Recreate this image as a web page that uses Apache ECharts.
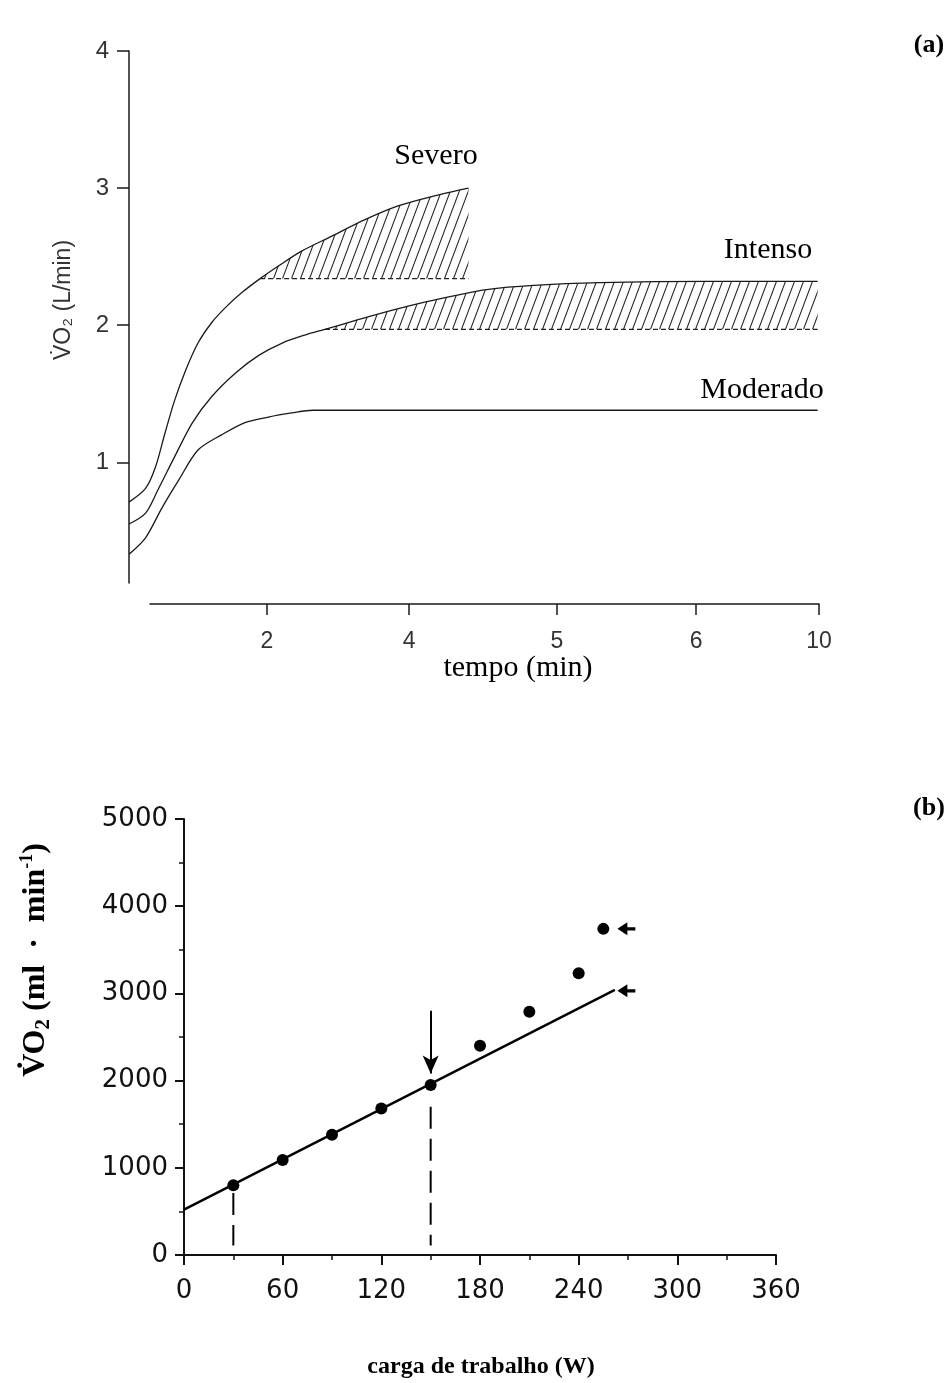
<!DOCTYPE html>
<html><head><meta charset="utf-8">
<script src="https://cdn.jsdelivr.net/npm/echarts@6/dist/echarts.min.js"></script>
<style>html,body{margin:0;padding:0;background:#fff}#c{width:949px;height:1383px}</style>
</head><body><div id="c"></div>
<script>
// ---------- Panel (a) ----------
// x values are positions along the (non-linear) time axis; labels below
const tempoTickPos = [1.0, 2.03, 3.10, 4.11, 5.0];
const tempoTickLabels = ['2', '4', '5', '6', '10'];
const vo2TicksA = [1, 2, 3, 4];

const severoX = [0, 0.12, 0.19, 0.26, 0.33, 0.41, 0.50, 0.60, 0.70, 0.82, 0.95, 1.08, 1.25, 1.47, 1.71, 1.95, 2.20, 2.46];
const severoY = [0.71, 0.81, 0.96, 1.21, 1.45, 1.67, 1.87, 2.02, 2.13, 2.24, 2.34, 2.43, 2.54, 2.65, 2.77, 2.87, 2.94, 3.00];
const severoBase = 2.34;

const intensoX = [0, 0.12, 0.21, 0.33, 0.46, 0.60, 0.77, 0.94, 1.11, 1.28, 1.42, 1.66, 1.91, 2.15, 2.38, 2.59, 2.93, 3.41, 4.19, 4.99];
const intensoY = [0.55, 0.63, 0.80, 1.04, 1.29, 1.48, 1.65, 1.78, 1.87, 1.93, 1.97, 2.04, 2.11, 2.17, 2.22, 2.26, 2.29, 2.31, 2.32, 2.32];
const intensoBase = 1.97;

const moderadoX = [0, 0.12, 0.24, 0.36, 0.50, 0.67, 0.84, 1.01, 1.18, 1.33, 4.99];
const moderadoY = [0.33, 0.45, 0.67, 0.87, 1.09, 1.20, 1.29, 1.33, 1.36, 1.38, 1.38];

// ---------- Panel (b) ----------
const cargaW = [30, 60, 90, 120, 150, 180, 210, 240, 255];
const vo2ml = [800, 1090, 1380, 1680, 1950, 2400, 2790, 3230, 3740];
const regrW = [0, 262];
const regrV = [520, 3040];
const arrowW = [269, 269];
const arrowV = [3740, 3030];
const dropW = [30, 150];
const dropTop = [710, 1700];
const dropBottom = [110, 110];
const downArrowW = 150;
const downArrowV = [2800, 2080];

function pairs(xs, ys) { return xs.map((x, i) => [x, ys[i]]); }
function fromX(xs, ys, start) { return pairs(xs, ys).filter(p => p[0] >= start - 1e-9); }

function hatchCanvas() {
  const w = 9, h = 24;
  const c = document.createElement('canvas');
  c.width = w; c.height = h;
  const g = c.getContext('2d');
  g.strokeStyle = '#222'; g.lineWidth = 1.1;
  for (const o of [-w, 0, w]) { g.beginPath(); g.moveTo(o, h); g.lineTo(o + w, 0); g.stroke(); }
  return c;
}
const hatch = { image: hatchCanvas(), repeat: 'repeat' };

const serifFont = '"Liberation Serif", "Times New Roman", serif';
const sansFont = '"Liberation Sans", Arial, sans-serif';
const curveStyle = { color: '#1a1a1a', width: 1.3 };

const chart = echarts.init(document.getElementById('c'), null, { renderer: 'canvas' });

const severoStart = severoX[severoY.indexOf(severoBase)];
const intensoStart = intensoX[intensoY.indexOf(intensoBase)];

chart.setOption({
  animation: false,
  backgroundColor: '#fff',
  grid: [
    { left: 129, width: 690, top: 51, height: 532 },
    { left: 150, width: 669, top: 51, height: 532 },
    { left: 184, width: 592, top: 819, height: 436 }
  ],
  xAxis: [
    { gridIndex: 0, type: 'value', min: 0, max: 5, show: false },
    { gridIndex: 1, type: 'value', min: 0.152, max: 5, offset: 21,
      axisLine: { show: true, lineStyle: { color: '#1a1a1a', width: 1.5 } },
      axisTick: { show: true, length: 11, customValues: tempoTickPos, lineStyle: { color: '#1a1a1a', width: 1.5 } },
      axisLabel: { customValues: tempoTickPos, margin: 26, fontSize: 23, fontFamily: sansFont, color: '#333',
        formatter: v => { const i = tempoTickPos.findIndex(p => Math.abs(p - v) < 1e-6); return i >= 0 ? tempoTickLabels[i] : ''; } },
      splitLine: { show: false } },
    { gridIndex: 2, type: 'value', min: 0, max: 360, interval: 60,
      axisLine: { show: true, onZero: false, lineStyle: { color: '#111', width: 2 } },
      axisTick: { show: true, length: 10, lineStyle: { color: '#111', width: 2 } },
      minorTick: { show: true, splitNumber: 2, length: 5, lineStyle: { color: '#111', width: 1.5 } },
      axisLabel: { margin: 23, fontSize: 26, fontFamily: '"DejaVu Sans", sans-serif', color: '#111', formatter: v => String(v) },
      splitLine: { show: false } }
  ],
  yAxis: [
    { gridIndex: 0, type: 'value', min: 0.12, max: 4,
      axisLine: { show: true, lineStyle: { color: '#1a1a1a', width: 1.5 } },
      axisTick: { show: true, length: 12, customValues: vo2TicksA, lineStyle: { color: '#1a1a1a', width: 1.5 } },
      axisLabel: { customValues: vo2TicksA, margin: 20, fontSize: 24, fontFamily: sansFont, color: '#333', formatter: v => String(v) },
      splitLine: { show: false } },
    { gridIndex: 1, type: 'value', min: 0.12, max: 4, show: false },
    { gridIndex: 2, type: 'value', min: 0, max: 5000, interval: 1000,
      axisLine: { show: true, onZero: false, lineStyle: { color: '#111', width: 2 } },
      axisTick: { show: true, length: 9, lineStyle: { color: '#111', width: 2 } },
      minorTick: { show: true, splitNumber: 2, length: 5, lineStyle: { color: '#111', width: 1.5 } },
      axisLabel: { margin: 16, fontSize: 26, fontFamily: '"DejaVu Sans", sans-serif', color: '#111', formatter: v => String(v) },
      splitLine: { show: false } }
  ],
  series: [
    // hatched areas
    { type: 'line', xAxisIndex: 0, yAxisIndex: 0, data: fromX(severoX, severoY, severoStart), smooth: 0.3,
      symbol: 'none', lineStyle: { width: 0 }, areaStyle: { origin: severoBase, color: hatch, opacity: 1 }, z: 1 },
    { type: 'line', xAxisIndex: 0, yAxisIndex: 0, data: fromX(intensoX, intensoY, intensoStart), smooth: 0.3,
      symbol: 'none', lineStyle: { width: 0 }, areaStyle: { origin: intensoBase, color: hatch, opacity: 1 }, z: 1 },
    // hatch baselines
    { type: 'line', xAxisIndex: 0, yAxisIndex: 0, data: [[severoStart, severoBase], [severoX[severoX.length - 1], severoBase]],
      symbol: 'none', lineStyle: { color: '#222', width: 1.2, type: [5, 3] } },
    { type: 'line', xAxisIndex: 0, yAxisIndex: 0, data: [[intensoStart, intensoBase], [intensoX[intensoX.length - 1], intensoBase]],
      symbol: 'none', lineStyle: { color: '#222', width: 1.2, type: [5, 3] } },
    // curves
    { name: 'Severo', type: 'line', xAxisIndex: 0, yAxisIndex: 0, data: pairs(severoX, severoY), smooth: 0.3, symbol: 'none', lineStyle: curveStyle, z: 3 },
    { name: 'Intenso', type: 'line', xAxisIndex: 0, yAxisIndex: 0, data: pairs(intensoX, intensoY), smooth: 0.3, symbol: 'none', lineStyle: curveStyle, z: 3 },
    { name: 'Moderado', type: 'line', xAxisIndex: 0, yAxisIndex: 0, data: pairs(moderadoX, moderadoY), smooth: 0.3, symbol: 'none', lineStyle: curveStyle, z: 3 },

    // ---- panel b ----
    { type: 'line', xAxisIndex: 2, yAxisIndex: 2, data: pairs(regrW, regrV), symbol: 'none',
      lineStyle: { color: '#000', width: 2.4 }, z: 3,
      markLine: { silent: true, symbol: ['none', 'arrow'], symbolSize: [12, 18], label: { show: false },
        lineStyle: { color: '#000', width: 2, type: 'solid' },
        data: [[{ coord: [downArrowW, downArrowV[0]] }, { coord: [downArrowW, downArrowV[1]] }]] } },
    { type: 'line', xAxisIndex: 2, yAxisIndex: 2, data: [[dropW[0], dropTop[0]], [dropW[0], dropBottom[0]]], symbol: 'none',
      lineStyle: { color: '#000', width: 2, type: [22, 10] } },
    { type: 'line', xAxisIndex: 2, yAxisIndex: 2, data: [[dropW[1], dropTop[1]], [dropW[1], dropBottom[1]]], symbol: 'none',
      lineStyle: { color: '#000', width: 2, type: [22, 10] } },
    { type: 'scatter', xAxisIndex: 2, yAxisIndex: 2, data: pairs(cargaW, vo2ml), symbol: 'circle', symbolSize: 12,
      itemStyle: { color: '#000', opacity: 1 }, z: 5 },
    { type: 'scatter', xAxisIndex: 2, yAxisIndex: 2, data: pairs(arrowW, arrowV),
      symbol: 'path://M0,6 L10,0 L10,4.5 L18,4.5 L18,7.5 L10,7.5 L10,12 Z', symbolSize: [18, 13], symbolKeepAspect: false,
      itemStyle: { color: '#000', opacity: 1 }, z: 5 }
  ],
  graphic: [
    { type: 'text', x: 64, y: 300, rotation: Math.PI / 2,
      style: { text: 'V\u0307O\u2082 (L/min)', fontSize: 23, fontFamily: sansFont, fill: '#333', align: 'center', verticalAlign: 'middle' } },
    { type: 'text', x: 436, y: 156, style: { text: 'Severo', fontSize: 30, fontFamily: serifFont, fill: '#000', align: 'center', verticalAlign: 'middle' } },
    { type: 'text', x: 768, y: 250, style: { text: 'Intenso', fontSize: 30, fontFamily: serifFont, fill: '#000', align: 'center', verticalAlign: 'middle' } },
    { type: 'text', x: 762, y: 390, style: { text: 'Moderado', fontSize: 30, fontFamily: serifFont, fill: '#000', align: 'center', verticalAlign: 'middle' } },
    { type: 'text', x: 518, y: 668, style: { text: 'tempo (min)', fontSize: 30, fontFamily: serifFont, fill: '#000', align: 'center', verticalAlign: 'middle' } },
    { type: 'text', x: 929, y: 45, style: { text: '(a)', fontSize: 26, fontWeight: 'bold', fontFamily: serifFont, fill: '#000', align: 'center', verticalAlign: 'middle' } },
    { type: 'text', x: 929, y: 808, style: { text: '(b)', fontSize: 26, fontWeight: 'bold', fontFamily: serifFont, fill: '#000', align: 'center', verticalAlign: 'middle' } },
    { type: 'text', x: 36, y: 960, rotation: Math.PI / 2,
      style: { text: '{m|V\u0307O}{s|2}{m| (ml  ·  min}{p|-1}{m|)}', align: 'center', verticalAlign: 'middle', fill: '#000',
        rich: {
          m: { fontSize: 32, fontWeight: 'bold', fontFamily: serifFont, fill: '#000', lineHeight: 36 },
          s: { fontSize: 21, fontWeight: 'bold', fontFamily: serifFont, fill: '#000', verticalAlign: 'bottom', lineHeight: 36 },
          p: { fontSize: 18, fontWeight: 'bold', fontFamily: serifFont, fill: '#000', verticalAlign: 'top', lineHeight: 36 }
        } } },
    { type: 'text', x: 481, y: 1367, style: { text: 'carga de trabalho (W)', fontSize: 24, fontWeight: 'bold', fontFamily: serifFont, fill: '#000', align: 'center', verticalAlign: 'middle' } }
  ]
});
</script>
</body></html>
